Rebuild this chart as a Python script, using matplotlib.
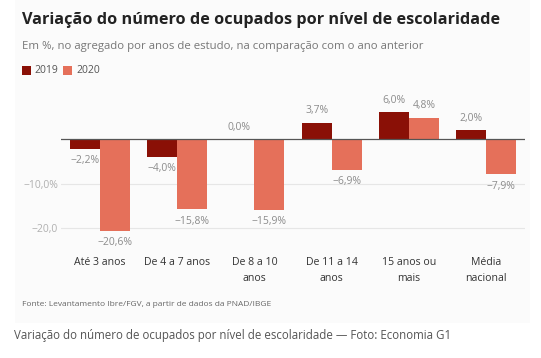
import numpy as np
import matplotlib.pyplot as plt
from matplotlib.patches import Rectangle

plt.rcParams["font.family"] = ["Open Sans", "DejaVu Sans"]

categories = ["Até 3 anos", "De 4 a 7 anos", "De 8 a 10\nanos", "De 11 a 14\nanos",
              "15 anos ou\nmais", "Média\nnacional"]
vals_2019 = [-2.2, -4.0, 0.0, 3.7, 6.0, 2.0]
vals_2020 = [-20.6, -15.8, -15.9, -6.9, 4.8, -7.9]
ytick_vals = [-20, -10]
ytick_labels = ["\u221220,0", "\u221210,0%"]

c2019 = "#8a1006"
c2020 = "#e5705a"
label_gray = "#8c8c8c"

W, H = 541, 358
fig = plt.figure(figsize=(W / 100, H / 100), dpi=100)

# faint panel behind the chart
fig.patches.append(Rectangle((15 / W, 1 - 323 / H), 515 / W, 323 / H,
                             transform=fig.transFigure, facecolor="#fbfbfb",
                             edgecolor="none", zorder=-5))

ax = fig.add_axes([61 / W, 1 - 243.6 / H, 464 / W, 146.9 / H])
ax.set_facecolor("none")
ax.set_zorder(2)

x = np.arange(len(categories))
w = 0.39
ax.bar(x - w / 2, vals_2019, w, color=c2019, zorder=3)
ax.bar(x + w / 2, vals_2020, w, color=c2020, zorder=3)

ax.set_xlim(-0.5, len(categories) - 0.5)
ax.set_ylim(-23.5, 9.5)

def fmt(v):
    s = f"{abs(v):.1f}".replace(".", ",") + "%"
    return ("\u2212" + s) if v < 0 else s

for xs, vals in [(x - w / 2, vals_2019), (x + w / 2, vals_2020)]:
    for xi, v in zip(xs, vals):
        if v < 0:
            ax.text(xi, v - 1.5, fmt(v), ha="center", va="top", fontsize=7.5,
                    color=label_gray)
        else:
            ax.text(xi, v + 1.4, fmt(v), ha="center", va="bottom", fontsize=7.5,
                    color=label_gray)

ax.axhline(0, color="#555555", lw=0.9, zorder=4)
for yv in ytick_vals:
    ax.axhline(yv, color="#e6e6e6", lw=0.8, zorder=1)

ax.set_yticks(ytick_vals)
ax.set_yticklabels(ytick_labels, fontsize=7.5, color="#b0b0b0")
ax.set_xticks(x)
ax.set_xticklabels(categories, fontsize=7.6, color="#333333", linespacing=1.6)
ax.tick_params(axis="both", length=0)
ax.tick_params(axis="x", pad=10)
ax.tick_params(axis="y", pad=2)
for s in ax.spines.values():
    s.set_visible(False)

fig.text(22 / W, 1 - 20 / H, "Variação do número de ocupados por nível de escolaridade",
         fontsize=11.7, fontweight="bold", color="#222222", va="center", ha="left")
fig.text(22 / W, 1 - 46 / H, "Em %, no agregado por anos de estudo, na comparação com o ano anterior",
         fontsize=8.2, color="#777777", va="center", ha="left")

# legend
fig.patches.append(Rectangle((22 / W, 1 - 75 / H), 9 / W, 9 / H, transform=fig.transFigure,
                             facecolor=c2019, edgecolor="none"))
fig.text(34 / W, 1 - 70.5 / H, "2019", fontsize=7.5, color="#555555", va="center")
fig.patches.append(Rectangle((63 / W, 1 - 75 / H), 9 / W, 9 / H, transform=fig.transFigure,
                             facecolor=c2020, edgecolor="none"))
fig.text(76 / W, 1 - 70.5 / H, "2020", fontsize=7.5, color="#555555", va="center")

fig.text(22 / W, 1 - 304 / H, "Fonte: Levantamento Ibre/FGV, a partir de dados da PNAD/IBGE",
         fontsize=6.0, color="#666666", va="center")
fig.text(14 / W, 1 - 335 / H, "Variação do número de ocupados por nível de escolaridade \u2014 Foto: Economia G1",
         fontsize=8.3, color="#555555", va="center")

fig.savefig("out.png", dpi=100)
